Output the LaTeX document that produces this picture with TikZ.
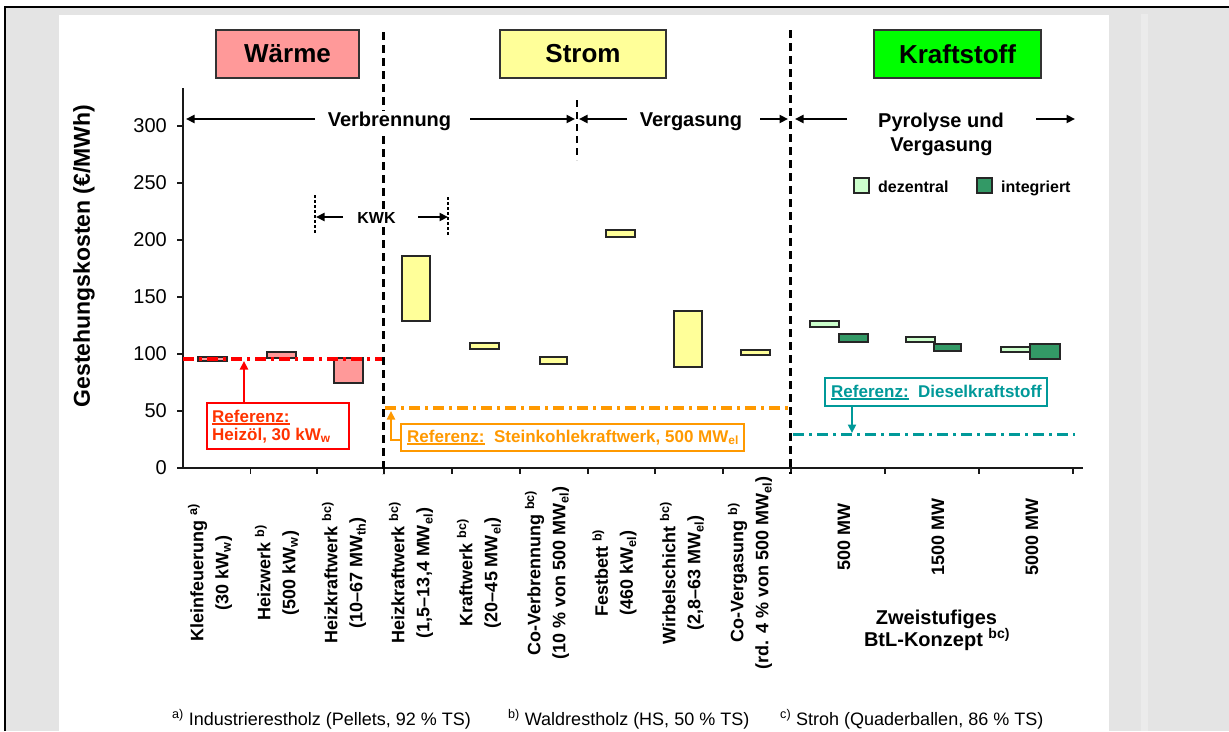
\documentclass[tikz,border=0pt]{standalone}
\usepackage{fontspec}
\setmainfont{Liberation Sans}
\usetikzlibrary{arrows.meta}
\definecolor{wfill}{HTML}{FF9999}
\definecolor{sfill}{HTML}{FFFF99}
\definecolor{kfill}{HTML}{00FF00}
\definecolor{dezfill}{HTML}{CCFFCC}
\definecolor{intfill}{HTML}{339966}
\definecolor{refred}{HTML}{FF0000}
\definecolor{redtxt}{HTML}{FF3300}
\definecolor{refor}{HTML}{FF9900}
\definecolor{refteal}{HTML}{009999}
\definecolor{bggray}{HTML}{E4E4E4}
\definecolor{bglight}{HTML}{EBEBEB}
\newcommand\fsz[2]{\fontsize{#1}{#2}\selectfont}
\newsavebox\ulbox
\newcommand\myul[1]{\sbox\ulbox{#1}\rlap{\rule[-2.5pt]{\wd\ulbox}{1.5pt}}\usebox\ulbox}
\begin{document}
\begin{tikzpicture}[x=1pt,y=-1pt,
  hdr/.style={draw=black!80, line width=1.8pt, font=\fsz{26}{30}\bfseries, inner sep=0pt, minimum height=48pt},
  bar/.style={draw=black!85, line width=1.3pt},
  axis/.style={line width=1.5pt, black!90},
  arr/.style={line width=2.8pt, -{Triangle[length=8.5pt,width=8pt]}},
  divider/.style={line width=3pt, dash pattern=on 8pt off 5pt},
  thindash/.style={line width=1.2pt, dash pattern=on 3pt off 2pt},
  lbl/.style={font=\fsz{18}{25}\bfseries, rotate=90, align=center, inner sep=0pt},
  proc/.style={font=\fsz{20}{24}\bfseries, anchor=base, inner xsep=2pt, inner ysep=1pt, fill=white},
  refline/.style={line width=3.2pt, dash pattern=on 11pt off 5pt on 3pt off 5pt},
  refbox/.style={line width=2pt, fill=white, anchor=north west, inner sep=0pt},
  reftxt/.style={font=\fsz{17}{18}\bfseries, anchor=base west, inner sep=0pt},
  foot/.style={font=\fsz{18}{20}, anchor=base west, inner sep=0pt},
  legtxt/.style={font=\fsz{16}{18}\bfseries, anchor=base west, inner sep=0pt}
]
\useasboundingbox (0,0) rectangle (1229,731);
% background and frame
\fill[white] (0,0) rectangle (1229,731);
\fill[bggray] (5,7) rectangle (1229,731);
\fill[bglight] (1141,14) rectangle (1148,731);
\fill[white] (59,15) rectangle (1109,731);
\draw[line width=2pt] (5,731) -- (5,7) -- (1229,7);

% headers
\node[hdr, fill=wfill, minimum width=143pt] (hw) at (287.5,54) {Wärme};
\node[hdr, fill=sfill, minimum width=166pt] (hs) at (583,54) {Strom};
\node[hdr, fill=kfill, minimum width=167pt] (hk) at (957.5,54) {Kraftstoff};

% axes
\draw[axis] (183,88) -- (183,468) -- (1083,468);
\foreach \v in {0,50,...,300} {
  \draw[axis] (177,{468-1.14*\v}) -- (183,{468-1.14*\v});
  \node[anchor=east, font=\fsz{20}{22}, inner sep=0pt] at (167,{468-1.14*\v}) {\v};
}
\foreach \x in {250.5,317,384,452,520,588,655,723,791,885,979,1073}
  \draw[axis] (\x,468) -- (\x,474);
\node[rotate=90, font=\fsz{23}{26}\bfseries] (ytitle) at (84,256) {Gestehungskosten (€/MWh)};

% legend
\draw[bar, fill=dezfill] (854,178) rectangle (869,193);
\node[legtxt] (ldez) at (878,192) {dezentral};
\draw[bar, fill=intfill] (977,178) rectangle (992,193);
\node[legtxt] (lint) at (1001,192) {integriert};

% bars: Waerme
\draw[bar, fill=wfill] (198,357) rectangle (227,361);
\draw[bar, fill=wfill] (267,352) rectangle (296,358);
\draw[bar, fill=wfill] (334,358) rectangle (363,383);
% bars: Strom
\draw[bar, fill=sfill] (402,256) rectangle (430,321);
\draw[bar, fill=sfill] (470,343) rectangle (499,349);
\draw[bar, fill=sfill] (540,357) rectangle (567,364);
\draw[bar, fill=sfill] (606,230) rectangle (635,237);
\draw[bar, fill=sfill] (674,311) rectangle (702,367);
\draw[bar, fill=sfill] (741,350) rectangle (770,355);
% bars: Kraftstoff
\draw[bar, fill=dezfill] (810,321) rectangle (839,327);
\draw[bar, fill=intfill] (839,334) rectangle (868,342);
\draw[bar, fill=dezfill] (906,337) rectangle (935,342);
\draw[bar, fill=intfill] (934,344) rectangle (961,351);
\draw[bar, fill=dezfill] (1001,347) rectangle (1030,352);
\draw[bar, fill=intfill] (1030,344) rectangle (1060,359);

% reference lines
\draw[refline, refred] (183,359) -- (383,359);
\draw[refline, refor, line width=3.5pt] (385,408) -- (790,408);
\draw[refline, refteal, line width=3pt] (793,434) -- (1075,434);

% reference boxes
\node[refbox, draw=refred, minimum width=142pt, minimum height=46pt] (rbox) at (206,402) {};
\node[reftxt, text=redtxt] (rt1) at (212,422) {\myul{Referenz:}};
\node[reftxt, text=redtxt] (rt2) at (212,440) {Heizöl, 30 kW\textsubscript{w}};
\node[refbox, draw=refor, minimum width=343pt, minimum height=27pt] (obox) at (400,423) {};
\node[reftxt, text=refor] (ot) at (407,442) {\myul{Referenz:}\ \ Steinkohlekraftwerk, 500 MW\textsubscript{el}};
\node[refbox, draw=refteal, minimum width=222pt, minimum height=28pt] (tbox) at (824,377) {};
\node[reftxt, text=refteal] (tt) at (831,397) {\myul{Referenz:}\ \ Dieselkraftstoff};
\coordinate (ra) at (244,361);
\draw[arr, refred] (rbox.north -| ra) -- (ra);
\coordinate (oa) at (391,411);
\draw[arr, refor, line width=2.4pt] (obox.west) ++(0,2.5) -| (oa);
\coordinate (ta) at (852,433);
\draw[arr, refteal] (tbox.south -| ta) -- (ta);

% dividers
\draw[divider] (383.5,32) -- (383.5,474);
\draw[divider] (790.5,30) -- (790.5,474);
\draw[line width=2pt, dash pattern=on 7pt off 5pt] (577,100) -- (577,160);
\draw[thindash] (315,195) -- (315,233);
\draw[thindash] (448,197) -- (448,235);

% process labels and arrows
\node[proc] (verb) at (389.5,126) {Verbrennung};
\node[proc] (verg) at (691,126) {Vergasung};
\node[proc] (pyr1) at (941,127) {Pyrolyse und};
\node[proc] (pyr2) at (941.5,151) {Vergasung};
\node[font=\fsz{16}{18}\bfseries, anchor=base, inner xsep=2pt, inner ysep=1pt, fill=white] (kwk) at (376.5,223) {KWK};
\coordinate (vb0) at (186,119); \coordinate (vb1) at (315,119);
\coordinate (vb2) at (470,119); \coordinate (vb3) at (575,119);
\coordinate (vg0) at (579,119); \coordinate (vg1) at (627,119);
\coordinate (vg2) at (760,119); \coordinate (vg3) at (788,119);
\coordinate (py0) at (795,119); \coordinate (py1) at (847,119);
\coordinate (py2) at (1036,119); \coordinate (py3) at (1075,119);
\coordinate (kw0) at (316,217); \coordinate (kw1) at (343,217);
\coordinate (kw2) at (418,217); \coordinate (kw3) at (448,217);
\draw[arr] (vb1) -- (vb0);
\draw[arr] (vb2) -- (vb3);
\draw[arr] (vg1) -- (vg0);
\draw[arr] (vg2) -- (vg3);
\draw[arr] (py1) -- (py0);
\draw[arr] (py2) -- (py3);
\draw[arr] (kw1) -- (kw0);
\draw[arr] (kw2) -- (kw3);

% category labels
\node[lbl] (c1) at (210,573) {Kleinfeuerung \textsuperscript{a)}\\(30 kW\textsubscript{w})};
\node[lbl] (c2) at (277,573) {Heizwerk \textsuperscript{b)}\\(500 kW\textsubscript{w})};
\node[lbl] (c3) at (344,573) {Heizkraftwerk \textsuperscript{bc)}\\(10–67 MW\textsubscript{th})};
\node[lbl] (c4) at (411,573) {Heizkraftwerk \textsuperscript{bc)}\\(1,5–13,4 MW\textsubscript{el})};
\node[lbl] (c5) at (479,573) {Kraftwerk \textsuperscript{bc)}\\(20–45 MW\textsubscript{el})};
\node[lbl] (c6) at (547,573) {Co-Verbrennung \textsuperscript{bc)}\\(10 \% von 500 MW\textsubscript{el})};
\node[lbl] (c7) at (614.5,573) {Festbett \textsuperscript{b)}\\(460 kW\textsubscript{el})};
\node[lbl] (c8) at (682,573) {Wirbelschicht \textsuperscript{bc)}\\(2,8–63 MW\textsubscript{el})};
\node[lbl] (c9) at (750,573) {Co-Vergasung \textsuperscript{b)}\\(rd. 4 \% von 500 MW\textsubscript{el})};
\node[lbl] (c10) at (844,537) {500 MW};
\node[lbl] (c11) at (938,537) {1500 MW};
\node[lbl] (c12) at (1032,537) {5000 MW};
\node[font=\fsz{20}{22}\bfseries, anchor=base, inner sep=0pt] (btl1) at (936.5,624) {Zweistufiges};
\node[font=\fsz{20}{22}\bfseries, anchor=base, inner sep=0pt] (btl2) at (937,646) {BtL-Konzept \textsuperscript{bc)}};

% footnotes
\node[foot] (fa) at (172,725) {\textsuperscript{a)} Industrierestholz (Pellets, 92 \% TS)};
\node[foot] (fb) at (508,725) {\textsuperscript{b)} Waldrestholz (HS, 50 \% TS)};
\node[foot] (fc) at (780,725) {\textsuperscript{c)} Stroh (Quaderballen, 86 \% TS)};
\end{tikzpicture}
\end{document}
